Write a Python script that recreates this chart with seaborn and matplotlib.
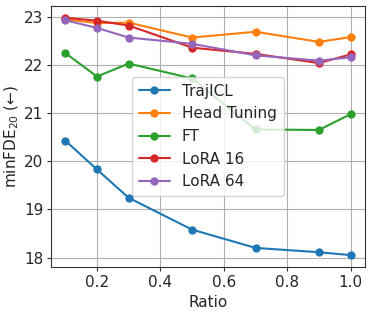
import matplotlib
matplotlib.use("Agg")
import matplotlib.pyplot as plt
import seaborn as sns
import pandas as pd

ratios = [0.1, 0.2, 0.3, 0.5, 0.7, 0.9, 1.0]
trajicl = [20.43, 19.83, 19.24, 18.58, 18.20, 18.11, 18.05]
head_tuning = [22.95, 22.87, 22.88, 22.57, 22.69, 22.48, 22.58]
ft = [22.25, 21.76, 22.03, 21.72, 20.66, 20.65, 20.98]
lora16 = [22.98, 22.92, 22.82, 22.36, 22.23, 22.04, 22.22]
lora64 = [22.93, 22.77, 22.57, 22.44, 22.20, 22.09, 22.16]
methods = ["TrajICL", "Head Tuning", "FT", "LoRA 16", "LoRA 64"]
series = [trajicl, head_tuning, ft, lora16, lora64]

rows = []
for m, vals in zip(methods, series):
    for r, v in zip(ratios, vals):
        rows.append({"Ratio": r, "value": v, "Method": m})
df = pd.DataFrame(rows)

sns.set_style("whitegrid", {"axes.edgecolor": "black", "grid.color": "#b0b0b0"})
plt.rcParams["font.family"] = ["DejaVu Sans"]

fig, ax = plt.subplots(figsize=(3.72, 3.13), dpi=100)
palette = ["#1f77b4", "#ff7f0e", "#2ca02c", "#d62728", "#9467bd"]
sns.lineplot(data=df, x="Ratio", y="value", hue="Method", hue_order=methods,
             palette=palette, marker="o", markersize=6, markeredgewidth=0,
             linewidth=1.5, ax=ax)
fs = 11
ax.set_xlabel("Ratio", fontsize=fs, labelpad=4)
ax.set_ylabel("minFDE$_{20}$ (←)", fontsize=fs, labelpad=2)
ax.tick_params(labelsize=fs, length=3, width=0.8, color="#333333", bottom=True, left=True, pad=2.5)
ax.set_xticks([0.2, 0.4, 0.6, 0.8, 1.0])
ax.set_yticks([18, 19, 20, 21, 22, 23])
for s in ax.spines.values():
    s.set_linewidth(0.8)
    s.set_color("#333333")
ax.legend(loc="center", fontsize=fs, frameon=True, title=None, borderpad=0.45, labelspacing=0.5)
fig.subplots_adjust(left=0.137, right=0.981, top=0.981, bottom=0.147)
fig.savefig("out.png", dpi=100)
